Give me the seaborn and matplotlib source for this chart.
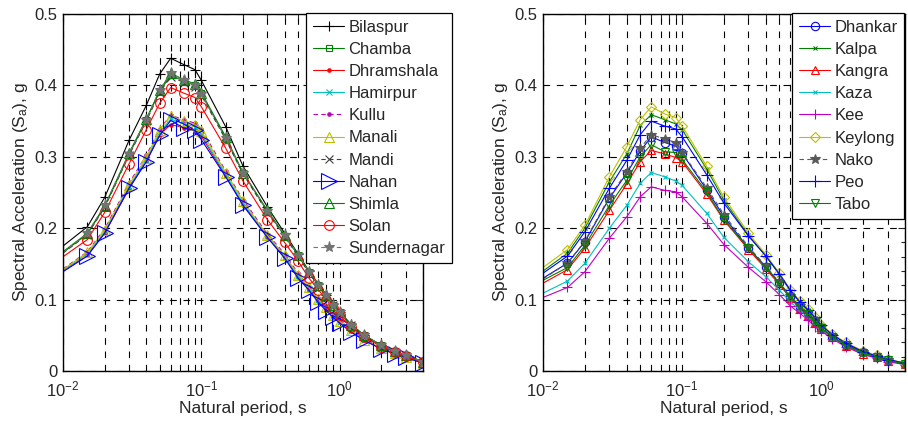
import numpy as np
import pandas as pd
import matplotlib
matplotlib.use("Agg")
import matplotlib.pyplot as plt
import matplotlib.ticker as mticker
import seaborn as sns

periods = [0.01, 0.015, 0.02, 0.03, 0.04, 0.05, 0.06, 0.075, 0.09, 0.1, 0.15, 0.2,
           0.3, 0.4, 0.5, 0.6, 0.7, 0.8, 0.9, 1.0, 1.2, 1.5, 2.0, 2.5, 3.0, 4.0]

left_names = ["Bilaspur", "Chamba", "Dhramshala", "Hamirpur", "Kullu", "Manali",
              "Mandi", "Nahan", "Shimla", "Solan", "Sundernagar"]
bilaspur = [0.175, 0.202, 0.243, 0.323, 0.372, 0.416, 0.438, 0.429, 0.422, 0.407, 0.342, 0.287,
            0.230, 0.193, 0.164, 0.140, 0.122, 0.107, 0.094, 0.083, 0.066, 0.050, 0.036, 0.028, 0.022, 0.013]
chamba = [0.166, 0.192, 0.230, 0.303, 0.352, 0.392, 0.414, 0.406, 0.400, 0.389, 0.326, 0.277,
          0.224, 0.189, 0.162, 0.138, 0.120, 0.105, 0.093, 0.082, 0.065, 0.050, 0.036, 0.028, 0.022, 0.013]
dhramshala = [0.140, 0.162, 0.193, 0.255, 0.294, 0.331, 0.345, 0.341, 0.338, 0.329, 0.273, 0.233,
              0.188, 0.159, 0.132, 0.114, 0.098, 0.086, 0.076, 0.068, 0.056, 0.043, 0.031, 0.024, 0.019, 0.011]
hamirpur = [0.141, 0.164, 0.195, 0.258, 0.296, 0.334, 0.353, 0.346, 0.342, 0.332, 0.275, 0.235,
            0.189, 0.160, 0.133, 0.115, 0.099, 0.087, 0.077, 0.069, 0.056, 0.044, 0.031, 0.024, 0.019, 0.011]
kullu = [0.143, 0.167, 0.199, 0.263, 0.302, 0.339, 0.358, 0.352, 0.347, 0.339, 0.280, 0.240,
         0.192, 0.164, 0.137, 0.118, 0.102, 0.090, 0.080, 0.071, 0.058, 0.045, 0.032, 0.025, 0.019, 0.011]
manali = [0.142, 0.166, 0.197, 0.261, 0.299, 0.338, 0.357, 0.350, 0.345, 0.336, 0.278, 0.238,
          0.190, 0.162, 0.135, 0.117, 0.101, 0.089, 0.079, 0.070, 0.057, 0.044, 0.032, 0.025, 0.019, 0.011]
mandi = [0.165, 0.191, 0.229, 0.302, 0.350, 0.390, 0.412, 0.404, 0.398, 0.386, 0.324, 0.276,
         0.222, 0.188, 0.161, 0.137, 0.119, 0.104, 0.092, 0.081, 0.064, 0.049, 0.035, 0.027, 0.021, 0.013]
nahan = [0.139, 0.161, 0.193, 0.256, 0.293, 0.330, 0.351, 0.340, 0.337, 0.324, 0.272, 0.232,
         0.187, 0.158, 0.130, 0.113, 0.096, 0.084, 0.075, 0.067, 0.055, 0.043, 0.031, 0.024, 0.019, 0.011]
shimla = [0.167, 0.193, 0.231, 0.305, 0.353, 0.393, 0.417, 0.408, 0.402, 0.390, 0.328, 0.278,
          0.225, 0.190, 0.163, 0.139, 0.121, 0.106, 0.093, 0.082, 0.065, 0.050, 0.036, 0.028, 0.022, 0.013]
solan = [0.160, 0.184, 0.222, 0.290, 0.338, 0.375, 0.397, 0.389, 0.383, 0.370, 0.312, 0.266,
         0.212, 0.180, 0.154, 0.130, 0.114, 0.100, 0.088, 0.078, 0.062, 0.048, 0.034, 0.027, 0.021, 0.012]
sundernagar = [0.166, 0.193, 0.232, 0.304, 0.352, 0.394, 0.417, 0.407, 0.401, 0.388, 0.326, 0.278,
               0.224, 0.190, 0.163, 0.139, 0.121, 0.106, 0.093, 0.082, 0.065, 0.050, 0.036, 0.028, 0.022, 0.013]

right_names = ["Dhankar", "Kalpa", "Kangra", "Kaza", "Kee", "Keylong", "Nako", "Peo", "Tabo"]
dhankar = [0.130, 0.151, 0.181, 0.242, 0.277, 0.308, 0.328, 0.320, 0.315, 0.305, 0.254, 0.216,
           0.172, 0.146, 0.123, 0.104, 0.090, 0.081, 0.070, 0.060, 0.048, 0.037, 0.026, 0.020, 0.015, 0.010]
kalpa = [0.140, 0.165, 0.200, 0.265, 0.304, 0.344, 0.359, 0.352, 0.346, 0.338, 0.283, 0.239,
         0.190, 0.161, 0.135, 0.112, 0.097, 0.085, 0.074, 0.064, 0.051, 0.039, 0.027, 0.021, 0.016, 0.011]
kangra = [0.123, 0.142, 0.172, 0.225, 0.262, 0.293, 0.309, 0.304, 0.299, 0.293, 0.248, 0.211,
          0.170, 0.143, 0.121, 0.102, 0.088, 0.079, 0.069, 0.059, 0.047, 0.035, 0.024, 0.019, 0.014, 0.010]
kaza = [0.109, 0.126, 0.151, 0.200, 0.232, 0.263, 0.278, 0.272, 0.266, 0.260, 0.221, 0.187,
        0.153, 0.132, 0.113, 0.097, 0.085, 0.076, 0.067, 0.058, 0.046, 0.035, 0.024, 0.019, 0.014, 0.010]
kee = [0.103, 0.117, 0.139, 0.186, 0.216, 0.244, 0.258, 0.253, 0.251, 0.244, 0.207, 0.177,
       0.145, 0.125, 0.107, 0.091, 0.081, 0.072, 0.062, 0.056, 0.045, 0.034, 0.023, 0.018, 0.013, 0.009]
keylong = [0.145, 0.170, 0.204, 0.272, 0.314, 0.352, 0.370, 0.360, 0.355, 0.343, 0.287, 0.243,
           0.193, 0.163, 0.137, 0.114, 0.098, 0.087, 0.076, 0.065, 0.052, 0.040, 0.028, 0.022, 0.017, 0.011]
nako = [0.129, 0.151, 0.182, 0.244, 0.279, 0.312, 0.331, 0.325, 0.320, 0.306, 0.257, 0.219,
        0.174, 0.147, 0.124, 0.105, 0.091, 0.082, 0.071, 0.061, 0.049, 0.037, 0.026, 0.020, 0.015, 0.010]
peo = [0.137, 0.161, 0.195, 0.256, 0.295, 0.331, 0.350, 0.343, 0.339, 0.328, 0.275, 0.235,
       0.189, 0.161, 0.136, 0.113, 0.097, 0.086, 0.075, 0.064, 0.051, 0.039, 0.027, 0.021, 0.016, 0.011]
tabo = [0.127, 0.145, 0.176, 0.232, 0.267, 0.300, 0.317, 0.307, 0.306, 0.296, 0.251, 0.212,
        0.172, 0.145, 0.123, 0.104, 0.090, 0.080, 0.070, 0.060, 0.048, 0.036, 0.025, 0.020, 0.015, 0.010]

left_values = [bilaspur, chamba, dhramshala, hamirpur, kullu, manali, mandi, nahan, shimla, solan, sundernagar]
right_values = [dhankar, kalpa, kangra, kaza, kee, keylong, nako, peo, tabo]

G = (0, 0.5, 0)
left_styles = [
    dict(color="k", marker="+", ms=7, ls="-", mfc="none"),
    dict(color=G, marker="s", ms=5, ls="-", mfc="none"),
    dict(color="r", marker=".", ms=5, ls="-", mfc="r"),
    dict(color=(0, 0.75, 0.75), marker="x", ms=5, ls="-", mfc="none"),
    dict(color=(0.75, 0, 0.75), marker=".", ms=5, ls=(0, (4, 3)), mfc=(0.75, 0, 0.75)),
    dict(color=(0.75, 0.75, 0), marker="^", ms=7, ls="-", mfc="none"),
    dict(color=(0.25, 0.25, 0.25), marker="x", ms=6, ls=(0, (4, 3)), mfc="none"),
    dict(color="b", marker=">", ms=12, ls="-", mfc="none"),
    dict(color=G, marker="^", ms=7, ls="-", mfc="none"),
    dict(color="r", marker="o", ms=7, ls="-", mfc="none"),
    dict(color=(0.45, 0.45, 0.45), marker="*", ms=8, ls=(0, (4, 3)), mfc=(0.45, 0.45, 0.45)),
]
right_styles = [
    dict(color="b", marker="o", ms=6, ls="-", mfc="none"),
    dict(color=G, marker="x", ms=3, ls="-", mfc="none"),
    dict(color="r", marker="^", ms=6, ls="-", mfc="none"),
    dict(color=(0, 0.75, 0.75), marker="x", ms=3, ls="-", mfc="none"),
    dict(color=(0.75, 0, 0.75), marker="+", ms=7, ls="-", mfc="none"),
    dict(color=(0.75, 0.75, 0), marker="D", ms=5, ls="-", mfc="none"),
    dict(color=(0.35, 0.35, 0.35), marker="*", ms=7, ls=(0, (4, 3)), mfc=(0.35, 0.35, 0.35)),
    dict(color="b", marker="+", ms=8, ls="-", mfc="none"),
    dict(color=G, marker="v", ms=6, ls="-", mfc="none"),
]

sns.set_style("white")
plt.rcParams["font.family"] = ["Liberation Sans", "DejaVu Sans"]
plt.rcParams["mathtext.fontset"] = "custom"
plt.rcParams["mathtext.rm"] = "Liberation Sans"
plt.rcParams["mathtext.it"] = "Liberation Sans"
plt.rcParams["mathtext.default"] = "regular"

W, H = 908, 426
fig = plt.figure(figsize=(W / 100, H / 100), dpi=100)
ax1 = fig.add_axes([63 / W, 1 - 371 / H, 360 / W, 357 / H])
ax2 = fig.add_axes([543 / W, 1 - 371 / H, 362 / W, 357 / H])


def draw(ax, names, values, styles, minor_y):
    handles = []
    for name, vals, st in zip(names, values, styles):
        df = pd.DataFrame({"T": periods, "Sa": vals})
        sns.lineplot(data=df, x="T", y="Sa", ax=ax, color=st["color"], linestyle=st["ls"],
                     marker=st["marker"], markersize=st["ms"], markerfacecolor=st["mfc"],
                     markeredgecolor=st["color"], markeredgewidth=0.8, linewidth=0.8,
                     markevery=slice(1, None), errorbar=None, sort=False, label=name)
        handles.append(ax.get_lines()[-1])
    ax.set_xscale("log")
    ax.set_xlim(0.01, 4)
    ax.set_ylim(0, 0.5)
    ax.xaxis.set_major_locator(mticker.LogLocator(base=10, numticks=10))
    ax.xaxis.set_minor_locator(mticker.LogLocator(base=10, subs=np.arange(2, 10), numticks=10))
    ax.xaxis.set_minor_formatter(mticker.NullFormatter())
    ax.yaxis.set_major_locator(mticker.MultipleLocator(0.1))
    ax.yaxis.set_major_formatter(mticker.FormatStrFormatter("%g"))
    if minor_y:
        ax.yaxis.set_minor_locator(mticker.MultipleLocator(0.02))
    ax.grid(True, which="major", axis="both", color="k", linestyle=(0, (6, 6)), linewidth=0.8)
    ax.grid(True, which="minor", axis="x", color="k", linestyle=(0, (6, 6)), linewidth=0.8)
    ax.tick_params(which="both", direction="in", top=True, right=True, labelsize=12, width=0.8)
    ax.tick_params(which="major", length=5)
    ax.tick_params(which="minor", length=3)
    ax.tick_params(axis="x", which="major", pad=6)
    ax.tick_params(axis="y", which="major", pad=4)
    for sp in ax.spines.values():
        sp.set_color("k")
        sp.set_linewidth(1.0)
    ax.set_xlabel("Natural period, s", fontsize=12.5, labelpad=1)
    ax.set_ylabel("Spectral Acceleration (S$_a$), g", fontsize=12.5, labelpad=3)
    return handles


h1 = draw(ax1, left_names, left_values, left_styles, False)
h2 = draw(ax2, right_names, right_values, right_styles, True)

for ax, hs, names, x0 in [(ax1, h1, left_names, 306), (ax2, h2, right_names, 792)]:
    leg = ax.legend(hs, names, loc="upper left", bbox_to_anchor=(x0 / W, 1 - 13 / H),
                    bbox_transform=fig.transFigure, borderaxespad=0, fontsize=12,
                    frameon=True, fancybox=False, framealpha=1, edgecolor="k",
                    handlelength=1.9, handletextpad=0.25, labelspacing=0.43,
                    borderpad=0.4)
    leg.get_frame().set_linewidth(0.9)
    leg.set_zorder(10)

fig.savefig("out.png", dpi=100)
